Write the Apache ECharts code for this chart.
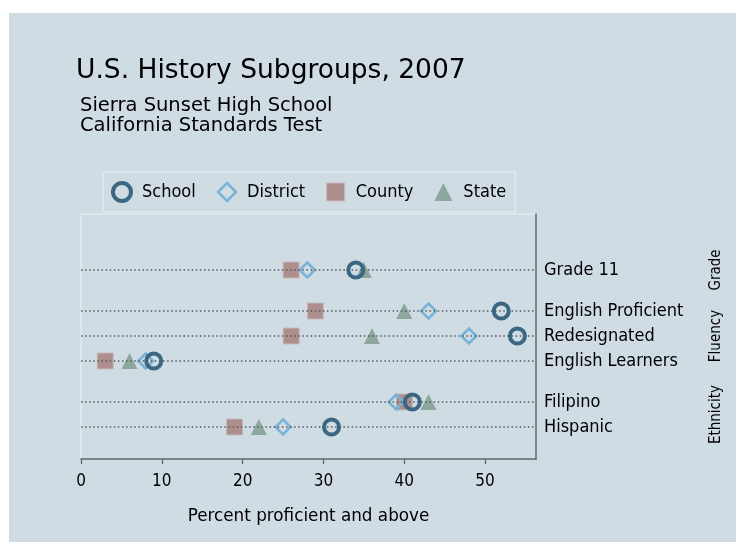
<!DOCTYPE html>
<html><head><meta charset="utf-8">
<script src="https://cdn.jsdelivr.net/npm/echarts@6/dist/echarts.min.js"></script>
<style>
html,body{margin:0;padding:0;background:#fff;}
#bg{position:absolute;left:9px;top:13px;right:0;bottom:0;background:#d0dce4;}
#chart{position:absolute;left:0;top:0;width:736px;height:542px;}
</style></head><body>
<div id="bg"></div><div id="chart"></div>
<script>
const categories = ['Grade 11','English Proficient','Redesignated','English Learners','Filipino','Hispanic'];
const categoryGroup = ['Grade','Fluency','Fluency','Fluency','Ethnicity','Ethnicity'];
const groups = ['Grade','Fluency','Ethnicity'];
const seriesNames = ['School','District','County','State'];
const school   = [34, 52, 54, 9, 41, 31];
const district = [28, 43, 48, 8, 39, 25];
const county   = [26, 29, 26, 3, 40, 19];
const state    = [35, 40, 36, 6, 43, 22];
const xTicks = [0, 10, 20, 30, 40, 50];
const xTitle = 'Percent proficient and above';

const FONT = "'DejaVu Sans Condensed','DejaVu Sans',sans-serif";
const FONT_R = "'DejaVu Sans',sans-serif";
const GROUP_GAP = 0.64;

// row positions, bottom to top
const rowPos = new Array(categories.length);
let p = 1;
for (let i = categories.length - 1; i >= 0; i--) {
  if (i < categories.length - 1) {
    p += 1;
    if (categoryGroup[i] !== categoryGroup[i + 1]) p += GROUP_GAP;
  }
  rowPos[i] = +p.toFixed(3);
}
const groupPos = groups.map(g => {
  const ps = rowPos.filter((v, i) => categoryGroup[i] === g);
  return +((Math.min(...ps) + Math.max(...ps)) / 2).toFixed(3);
});
const yMin = rowPos[categories.length - 1] - 1.28;
const yMax = rowPos[0] + 2.24;
const rowLabel = {}; rowPos.forEach((v, i) => rowLabel[v.toFixed(3)] = categories[i]);
const groupLabel = {}; groupPos.forEach((v, i) => groupLabel[v.toFixed(3)] = groups[i]);

const colors = {School: '#3b6782', District: '#78b3d7', County: '#ae8d8d', State: '#8da79c'};
const styles = {
  School:   {symbol: 'circle',   size: 15, item: {color: 'transparent', borderColor: colors.School, borderWidth: 4, opacity: 1}, z: 5},
  District: {symbol: 'diamond',  size: 15, item: {color: 'transparent', borderColor: colors.District, borderWidth: 2.5, opacity: 1}, z: 4},
  County:   {symbol: 'rect',     size: 16, item: {color: colors.County, borderColor: '#c6babb', borderWidth: 1, opacity: 1}, z: 3},
  State:    {symbol: 'triangle', size: 16, item: {color: colors.State, opacity: 1}, z: 2}
};
const values = {School: school, District: district, County: county, State: state};

const series = seriesNames.map(n => ({
  name: n, type: 'scatter', symbol: styles[n].symbol, symbolSize: styles[n].size,
  itemStyle: styles[n].item, z: styles[n].z,
  data: values[n].map((v, i) => [v, rowPos[i]])
}));
series.push({
  name: 'rows', type: 'scatter', data: [], z: 1,
  markLine: {
    silent: true, symbol: ['none', 'none'], label: {show: false},
    lineStyle: {type: [1.5, 2.6], color: '#555a5f', width: 1.5},
    data: rowPos.map(v => ({yAxis: v}))
  }
});

const chart = echarts.init(document.getElementById('chart'));
chart.setOption({
  backgroundColor: 'transparent',
  animation: false,
  textStyle: {fontFamily: FONT},
  title: [
    {text: 'U.S. History Subgroups, 2007', left: 76, top: 58, padding: 0,
     textStyle: {fontFamily: FONT_R, fontSize: 26.5, fontWeight: 'normal', color: '#000'}},
    {text: 'Sierra Sunset High School\nCalifornia Standards Test', left: 80, top: 96, padding: 0,
     textStyle: {fontFamily: FONT_R, fontSize: 19.5, lineHeight: 20, fontWeight: 'normal', color: '#000'}}
  ],
  legend: {
    left: 103, top: 172, padding: [9, 9, 9, 8], itemGap: 21, itemWidth: 18, itemHeight: 18,
    borderColor: '#e6edf1', borderWidth: 1,
    textStyle: {fontFamily: FONT, fontSize: 18, color: '#000', padding: [0, 0, 0, 6]},
    data: seriesNames.map(n => ({name: n, icon: styles[n].symbol, itemStyle: styles[n].item}))
  },
  grid: {left: 81, right: 200, top: 214, bottom: 83, show: true, borderColor: '#eef3f6', borderWidth: 1, backgroundColor: 'transparent'},
  xAxis: {
    type: 'value', min: 0, max: 56.3,
    axisLine: {onZero: false, lineStyle: {color: '#5f6366', width: 1.5}},
    axisTick: {show: true, customValues: xTicks, length: 5, lineStyle: {color: '#5f6366', width: 1.2}},
    axisLabel: {customValues: xTicks, margin: 14, fontSize: 17, color: '#000', fontFamily: FONT},
    splitLine: {show: false},
    name: xTitle, nameLocation: 'middle', nameGap: 49,
    nameTextStyle: {fontSize: 16.8, color: '#000', fontFamily: FONT_R}
  },
  yAxis: [
    {
      type: 'value', position: 'right', min: yMin, max: yMax,
      axisLine: {show: true, onZero: false, lineStyle: {color: '#5f6366', width: 1.5}},
      axisTick: {show: false}, splitLine: {show: false},
      axisLabel: {customValues: rowPos, formatter: v => rowLabel[(+v).toFixed(3)] || '',
                  margin: 8, fontSize: 18, color: '#000', fontFamily: FONT}
    },
    {
      type: 'value', position: 'right', min: yMin, max: yMax,
      axisLine: {show: false}, axisTick: {show: false}, splitLine: {show: false},
      axisLabel: {customValues: groupPos, formatter: v => groupLabel[(+v).toFixed(3)] || '',
                  rotate: 90, margin: 173, fontSize: 15, color: '#000', fontFamily: FONT}
    }
  ],
  series: series
});
</script>
</body></html>
